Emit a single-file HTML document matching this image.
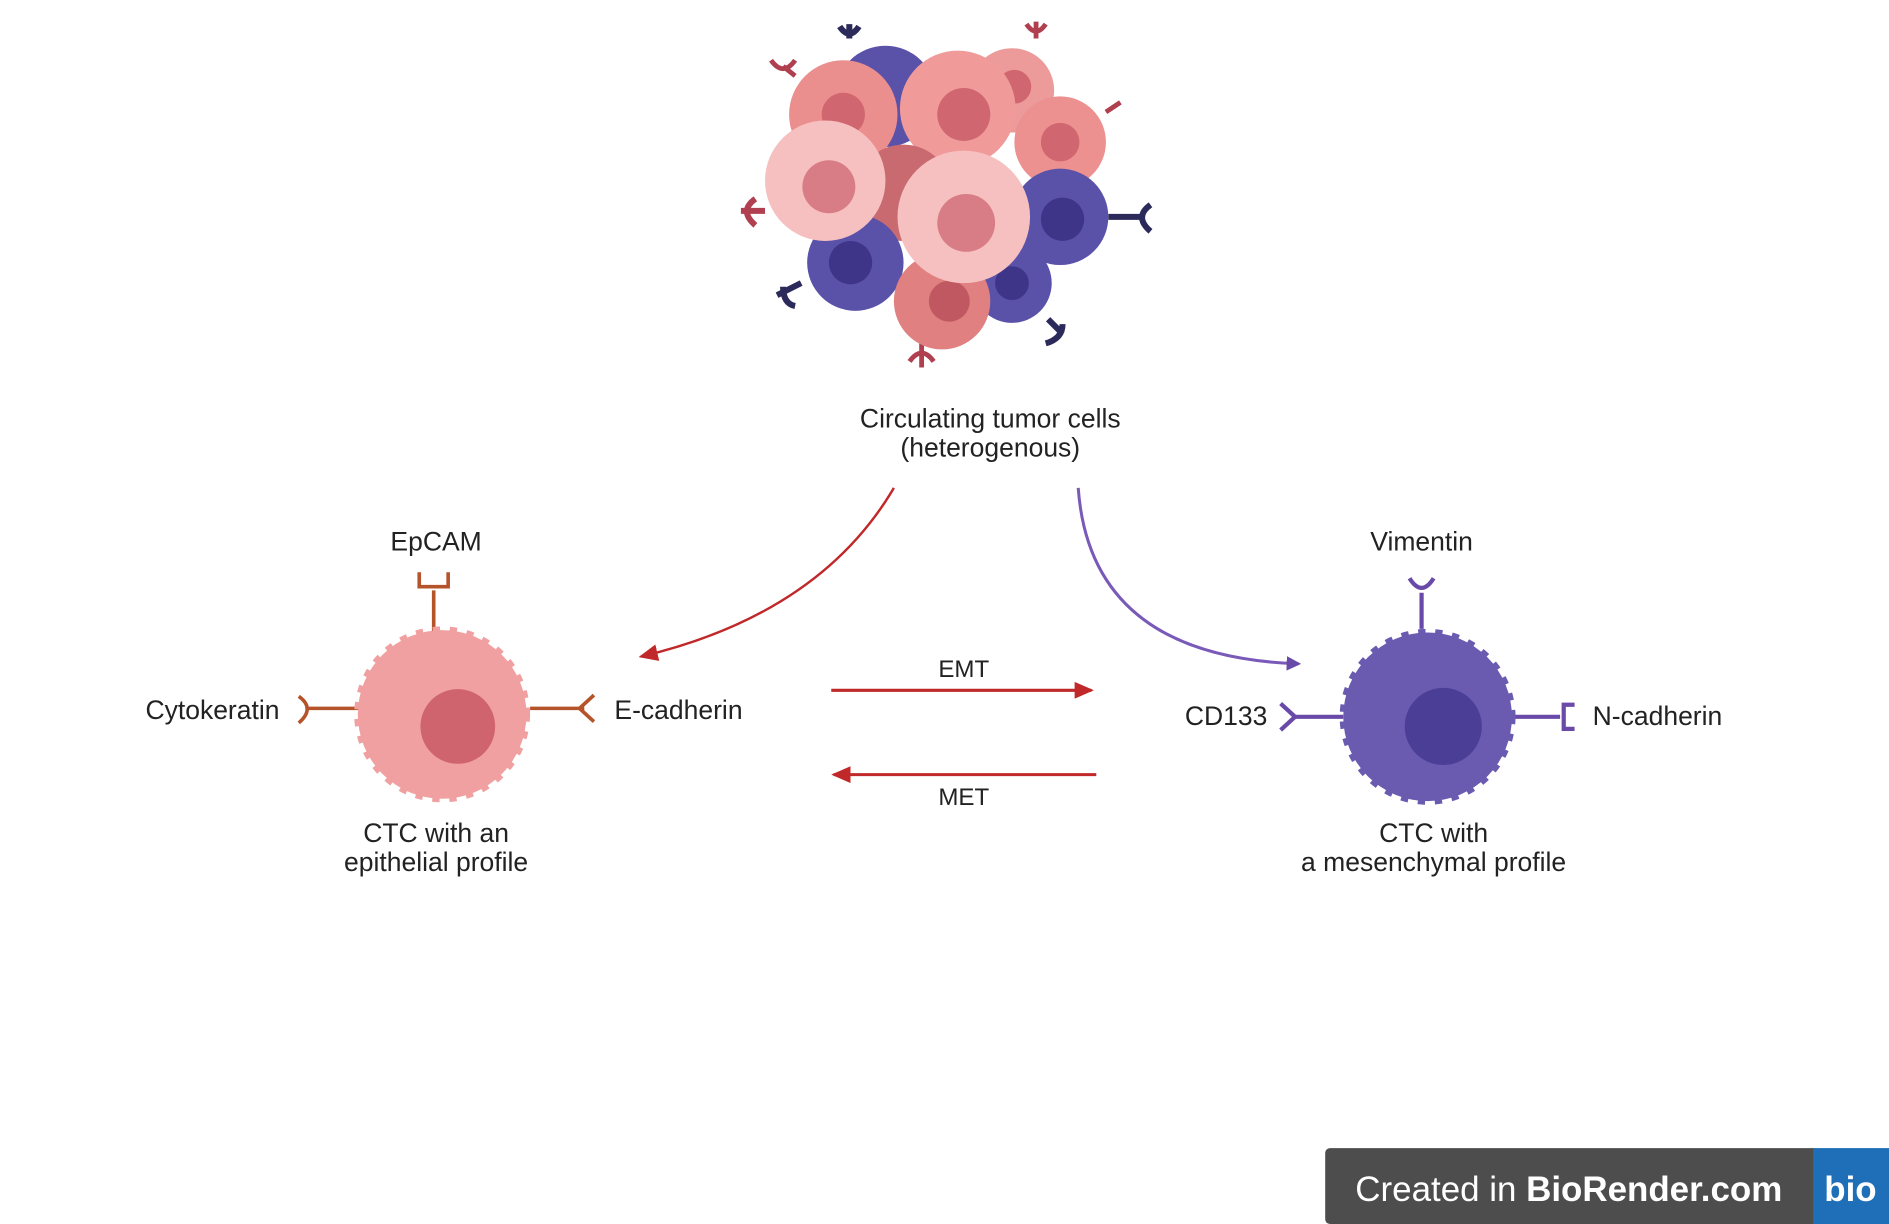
<!DOCTYPE html>
<html><head><meta charset="utf-8"><style>
html,body{margin:0;padding:0;background:#fff;}
svg{display:block;}
text{font-family:"Liberation Sans",sans-serif;fill:#222;}
</style></head><body>
<svg width="1889" height="1224" viewBox="0 0 1568 1016" preserveAspectRatio="none" xmlns="http://www.w3.org/2000/svg">
<defs>
<marker id="ap" markerWidth="12" markerHeight="12" refX="10" refY="6" orient="auto" markerUnits="userSpaceOnUse"><path d="M0,0 L12,6 L0,12 z" fill="#6a4aa8"/></marker>
<marker id="ar2" markerWidth="16" markerHeight="14" refX="14" refY="7" orient="auto" markerUnits="userSpaceOnUse"><path d="M0,0 L16,7 L0,14 z" fill="#c0282a"/></marker>
</defs>
<g>
<path d="M705,20 v12 M697,22 q8,12 16,0" stroke="#2b2a5a" stroke-width="5" fill="none"/>
<path d="M860,18 v14 M852,20 q8,12 16,0" stroke="#b04050" stroke-width="4" fill="none"/>
<path d="M650,55 l10,8 M640,50 q10,14 20,0" stroke="#b04050" stroke-width="4" fill="none"/>
<path d="M930,85 l-12,8" stroke="#b04050" stroke-width="4" fill="none"/>
<path d="M615,175 h20 M627,165 q-14,10 0,22" stroke="#b04050" stroke-width="5" fill="none"/>
<path d="M920,180 h30 M955,170 q-14,10 0,22" stroke="#2b2a5a" stroke-width="5" fill="none"/>
<path d="M645,245 l20,-10 M650,238 q0,14 10,16" stroke="#2b2a5a" stroke-width="5" fill="none"/>
<path d="M870,265 l12,12 M868,285 q14,-4 14,-16" stroke="#2b2a5a" stroke-width="5" fill="none"/>
<path d="M765,285 v20 M755,300 q10,-14 20,0" stroke="#b04050" stroke-width="4" fill="none"/>
<circle cx="735" cy="80" r="42" fill="#5a52a8"/>
<circle cx="700" cy="95" r="45" fill="#eb8e8e"/><circle cx="700" cy="95" r="18" fill="#d06670"/>
<circle cx="840" cy="75" r="35" fill="#ec9a9a"/><circle cx="842" cy="72" r="14" fill="#d06670"/>
<circle cx="795" cy="90" r="48" fill="#f09a9a"/><circle cx="800" cy="95" r="22" fill="#d06670"/>
<circle cx="880" cy="118" r="38" fill="#ec9090"/><circle cx="880" cy="118" r="16" fill="#d06670"/>
<circle cx="750" cy="160" r="40" fill="#c96a70"/>
<circle cx="880" cy="180" r="40" fill="#5a52a8"/><circle cx="882" cy="182" r="18" fill="#3e3588"/>
<circle cx="710" cy="218" r="40" fill="#5a52a8"/><circle cx="706" cy="218" r="18" fill="#3e3588"/>
<circle cx="840" cy="235" r="33" fill="#5a52a8"/><circle cx="840" cy="235" r="14" fill="#3e3588"/>
<circle cx="782" cy="250" r="40" fill="#e08080"/><circle cx="788" cy="250" r="17" fill="#c05862"/>
<circle cx="685" cy="150" r="50" fill="#f7c0c0"/><circle cx="688" cy="155" r="22" fill="#d87d85"/>
<circle cx="800" cy="180" r="55" fill="#f7c0c0"/><circle cx="802" cy="185" r="24" fill="#d87d85"/>
</g>
<text x="822" y="355" font-size="22" text-anchor="middle">Circulating tumor cells</text>
<text x="822" y="379" font-size="22" text-anchor="middle">(heterogenous)</text>
<path d="M742,405 Q680,510 532,545" stroke="#c0282a" stroke-width="2" fill="none" marker-end="url(#ar2)"/>
<path d="M895,405 Q905,545 1078,551" stroke="#7a5ab8" stroke-width="2.5" fill="none" marker-end="url(#ap)"/>
<text x="800" y="562" font-size="20" text-anchor="middle">EMT</text>
<path d="M690,573 H906" stroke="#c0282a" stroke-width="2.5" marker-end="url(#ar2)"/>
<path d="M910,643 H692" stroke="#c0282a" stroke-width="2.5" marker-end="url(#ar2)"/>
<text x="800" y="668" font-size="20" text-anchor="middle">MET</text>
<g stroke="#b5542a" stroke-width="3" fill="none">
<path d="M360,490 V525 M348,475 v12 h24 v-12"/>
<path d="M255,588 H300 M248,578 q14,10 0,22"/>
<path d="M440,588 H485 M493,577 l-12,11 l12,11"/>
</g>
<circle cx="367" cy="593" r="70" fill="#f0a0a0" stroke="#f0a0a0" stroke-width="6" stroke-dasharray="6 8"/>
<circle cx="380" cy="603" r="31" fill="#d0646e"/>
<text x="362" y="457" font-size="22" text-anchor="middle">EpCAM</text>
<text x="232" y="597" font-size="22" text-anchor="end">Cytokeratin</text>
<text x="510" y="597" font-size="22">E-cadherin</text>
<text x="362" y="699" font-size="22" text-anchor="middle">CTC with an</text>
<text x="362" y="723" font-size="22" text-anchor="middle">epithelial profile</text>
<g stroke="#6a4aa8" stroke-width="3.5" fill="none">
<path d="M1180,492 V522 M1170,480 q10,16 20,0"/>
<path d="M1075,595 H1115 M1063,584 l12,11 l-12,11"/>
<path d="M1255,595 H1295 M1307,585 h-9 v20 h9"/>
</g>
<circle cx="1185" cy="595" r="70" fill="#6a5ab0" stroke="#6a5ab0" stroke-width="6" stroke-dasharray="6 8"/>
<circle cx="1198" cy="603" r="32" fill="#4a3e96"/>
<text x="1180" y="457" font-size="22" text-anchor="middle">Vimentin</text>
<text x="1052" y="602" font-size="22" text-anchor="end">CD133</text>
<text x="1322" y="602" font-size="22">N-cadherin</text>
<text x="1190" y="699" font-size="22" text-anchor="middle">CTC with</text>
<text x="1190" y="723" font-size="22" text-anchor="middle">a mesenchymal profile</text>
<rect x="1100" y="953" width="410" height="63" rx="4" fill="#4d4d4d"/>
<rect x="1505" y="953" width="63" height="63" fill="#1e6fb8"/>
<text x="1125" y="997" font-size="29" style="fill:#fff">Created in <tspan font-weight="bold" style="fill:#fff">BioRender.com</tspan></text>
<text x="1536" y="997" font-size="29" font-weight="bold" text-anchor="middle" style="fill:#fff">bio</text>
</svg>
</body></html>
